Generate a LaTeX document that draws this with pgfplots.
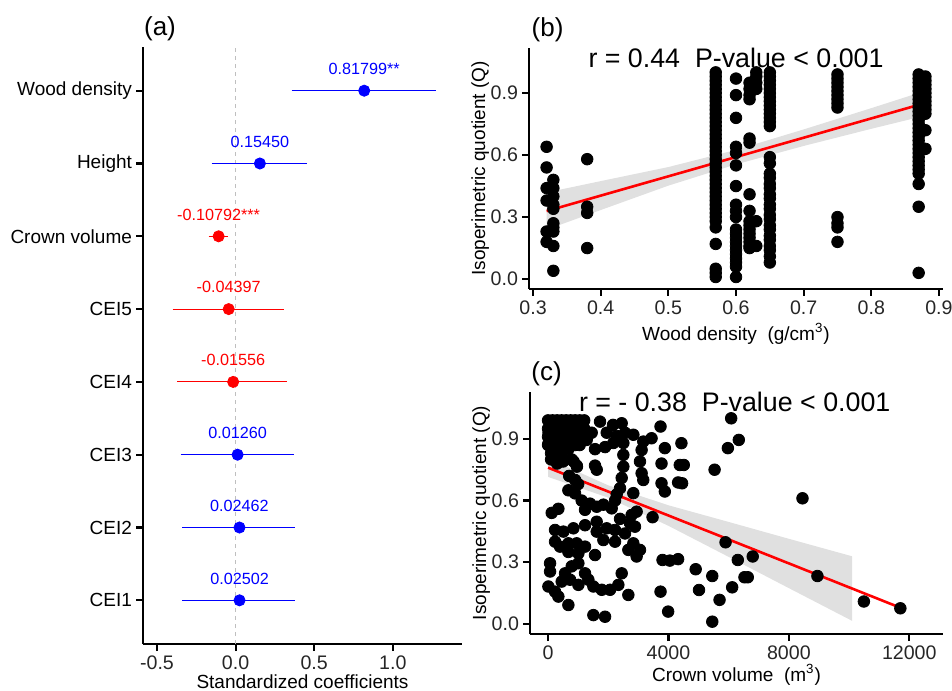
\documentclass[border=0pt]{standalone}
\usepackage{pgfplots}
\pgfplotsset{compat=1.18}
\usepackage{fontspec}
\setmainfont{Liberation Sans}

\pgfplotsset{
  gg/.style={
    scale only axis,
    axis x line*=bottom, axis y line*=left,
    xtick pos=bottom, ytick pos=left,
    axis line style={line width=1.1pt,-},
    tick align=outside, major tick length=3.5pt,
    xtick style={line width=1.1pt,black,draw=black},
    ytick style={line width=1.1pt,black,draw=black},
    tick label style={font=\fontsize{9.8}{11}\selectfont,text=black!85},
    xticklabel style={yshift=1.2pt},
    yticklabel style={xshift=1.5pt},
    label style={font=\fontsize{9.5}{11}\selectfont},
    /pgf/number format/assume math mode=true,
  },
  dots/.style={only marks,mark=*,mark size=2.9pt,black},
  band/.style={fill=gray!60,fill opacity=0.4,draw=none},
  fit/.style={red,line width=1.3pt},
}

\begin{document}
\begin{tikzpicture}[x=1pt,y=1pt]
\useasboundingbox (0,0) rectangle (476,345);

% (a) standardized coefficients
\begin{axis}[gg, at={(71.5pt,23pt)}, anchor=south west,
  width=159.5pt, height=298.5pt,
  axis line style={line width=1.3pt,-},
  xmin=-0.589, xmax=1.44, ymin=0.4, ymax=8.6,
  xtick={-0.5,0,0.5,1}, xticklabels={-0.5,0.0,0.5,1.0},
  ytick={1,...,8},
  yticklabels={CEI1,CEI2,CEI3,CEI4,CEI5,Crown volume,Height,Wood density},
  yticklabel style={text=black,font=\fontsize{9.5}{11}\selectfont},
  xlabel={Standardized coefficients},
  xlabel style={at={(axis description cs:0.5,-0.064)},anchor=center},
  nodes near coords, point meta=explicit symbolic,
  every node near coord/.append style={font=\fontsize{8.1}{9}\selectfont,anchor=south,yshift=4.5pt},
]
\addplot[gray!50,dash pattern=on 2pt off 2pt,line width=0.5pt,nodes near coords=] coordinates {(0,0.4) (0,8.6)};
% confidence intervals
\addplot[blue,line width=0.5pt,nodes near coords=] coordinates {(0.357,8) (1.272,8)};
\addplot[blue,line width=0.5pt,nodes near coords=] coordinates {(-0.153,7) (0.452,7)};
\addplot[red,line width=0.5pt,nodes near coords=] coordinates {(-0.172,6) (-0.050,6)};
\addplot[red,line width=0.5pt,nodes near coords=] coordinates {(-0.40,5) (0.305,5)};
\addplot[red,line width=0.5pt,nodes near coords=] coordinates {(-0.37,4) (0.33,4)};
\addplot[blue,line width=0.5pt,nodes near coords=] coordinates {(-0.35,3) (0.37,3)};
\addplot[blue,line width=0.5pt,nodes near coords=] coordinates {(-0.34,2) (0.38,2)};
\addplot[blue,line width=0.5pt,nodes near coords=] coordinates {(-0.34,1) (0.38,1)};
% estimates
\addplot[only marks,mark=*,mark size=2.8pt,blue,
  every node near coord/.append style={text=blue}] table[x=est,y=pos,meta=lab] {
pos est lab
8 0.81799 0.81799**
7 0.15450 0.15450
3 0.01260 0.01260
2 0.02462 0.02462
1 0.02502 0.02502
};
\addplot[only marks,mark=*,mark size=2.8pt,red,
  every node near coord/.append style={text=red}] table[x=est,y=pos,meta=lab] {
pos est lab
6 -0.10792 -0.10792***
5 -0.04397 -0.04397
4 -0.01556 -0.01556
};
\end{axis}

% (b) wood density
\begin{axis}[gg, at={(264.5pt,200.5pt)}, anchor=south west,
  width=207pt, height=120.5pt,
  xmin=0.294, xmax=0.906, ymin=-0.048, ymax=1.118,
  xtick={0.3,0.4,0.5,0.6,0.7,0.8,0.9},
  xticklabels={0.3,0.4,0.5,0.6,0.7,0.8,0.9},
  ytick={0,0.3,0.6,0.9}, yticklabels={0.0,0.3,0.6,0.9},
  xlabel={Wood density\ \ (g/cm\textsuperscript{3})},
  xlabel style={at={(axis description cs:0.5,-0.187)},anchor=center},
  ylabel={Isoperimetric quotient (Q)},
  ylabel style={at={(axis description cs:-0.118,0.5)},anchor=center},
]
\addplot[dots] coordinates {
(0.32,0.64) (0.32,0.54) (0.32,0.44) (0.32,0.38) (0.32,0.23) (0.32,0.18)
(0.33,0.48) (0.33,0.44) (0.33,0.40) (0.33,0.36) (0.33,0.34) (0.33,0.27) (0.33,0.25) (0.33,0.23) (0.33,0.16) (0.33,0.04)
(0.38,0.58) (0.38,0.35) (0.38,0.32) (0.38,0.15)
(0.57,1.00) (0.57,0.98) (0.57,0.96) (0.57,0.94) (0.57,0.92) (0.57,0.90) (0.57,0.88) (0.57,0.86) (0.57,0.84) (0.57,0.82)
(0.57,0.80) (0.57,0.78) (0.57,0.76) (0.57,0.74) (0.57,0.72) (0.57,0.70) (0.57,0.68) (0.57,0.66) (0.57,0.64) (0.57,0.62)
(0.57,0.60) (0.57,0.58) (0.57,0.56) (0.57,0.54) (0.57,0.52) (0.57,0.50) (0.57,0.48) (0.57,0.46) (0.57,0.44) (0.57,0.42)
(0.57,0.40) (0.57,0.38) (0.57,0.36) (0.57,0.34) (0.57,0.32) (0.57,0.30) (0.57,0.28) (0.57,0.25) (0.57,0.17) (0.57,0.05)
(0.57,0.03) (0.57,0.01)
(0.60,0.97) (0.60,0.89) (0.60,0.78) (0.60,0.64) (0.60,0.61) (0.60,0.55) (0.60,0.45) (0.60,0.36) (0.60,0.33) (0.60,0.30)
(0.60,0.24) (0.60,0.22) (0.60,0.20) (0.60,0.18) (0.60,0.16) (0.60,0.14) (0.60,0.12) (0.60,0.10) (0.60,0.08) (0.60,0.06) (0.60,0.01)
(0.62,0.95) (0.62,0.92) (0.62,0.89) (0.62,0.87) (0.62,0.68) (0.62,0.66) (0.62,0.41) (0.62,0.33) (0.62,0.28) (0.62,0.26)
(0.62,0.24) (0.62,0.22) (0.62,0.20) (0.62,0.18) (0.62,0.16) (0.62,0.15)
(0.63,1.00) (0.63,0.98) (0.63,0.95) (0.63,0.92) (0.63,0.28) (0.63,0.16)
(0.65,1.00) (0.65,0.98) (0.65,0.96) (0.65,0.94) (0.65,0.92) (0.65,0.90) (0.65,0.88) (0.65,0.86) (0.65,0.84) (0.65,0.82)
(0.65,0.80) (0.65,0.78) (0.65,0.76) (0.65,0.74) (0.65,0.59) (0.65,0.56) (0.65,0.51) (0.65,0.49) (0.65,0.46) (0.65,0.44)
(0.65,0.41) (0.65,0.39) (0.65,0.36) (0.65,0.34) (0.65,0.31) (0.65,0.29) (0.65,0.26) (0.65,0.24) (0.65,0.21) (0.65,0.19)
(0.65,0.16) (0.65,0.14) (0.65,0.11) (0.65,0.08)
(0.75,0.99) (0.75,0.97) (0.75,0.95) (0.75,0.93) (0.75,0.91) (0.75,0.89) (0.75,0.87) (0.75,0.85) (0.75,0.83)
(0.75,0.30) (0.75,0.27) (0.75,0.25) (0.75,0.18)
(0.87,0.99) (0.87,0.97) (0.87,0.95) (0.87,0.93) (0.87,0.91) (0.87,0.89) (0.87,0.87) (0.87,0.85) (0.87,0.83) (0.87,0.81)
(0.87,0.79) (0.87,0.77) (0.87,0.75) (0.87,0.73) (0.87,0.71) (0.87,0.69) (0.87,0.67) (0.87,0.65) (0.87,0.63) (0.87,0.61)
(0.87,0.59) (0.87,0.57) (0.87,0.55) (0.87,0.53) (0.87,0.51) (0.87,0.46) (0.87,0.35) (0.87,0.03)
(0.88,0.98) (0.88,0.96) (0.88,0.94) (0.88,0.92) (0.88,0.90) (0.88,0.88) (0.88,0.86) (0.88,0.84) (0.88,0.82) (0.88,0.80)
(0.88,0.72) (0.88,0.63)
};
\addplot[band] coordinates {
(0.32,0.419) (0.4,0.474) (0.5,0.542) (0.6,0.625) (0.7,0.724) (0.8,0.827) (0.88,0.911)
(0.88,0.791) (0.8,0.727) (0.7,0.644) (0.6,0.555) (0.5,0.452) (0.4,0.334) (0.32,0.239)
} -- cycle;
\addplot[fit] coordinates {(0.32,0.329) (0.88,0.852)};
\node[font=\fontsize{13.4}{15}\selectfont] at (axis cs:0.6,1.07) {r = 0.44\ \ P-value \textless{} 0.001};
\end{axis}

% (c) crown volume
\begin{axis}[gg, at={(265pt,28pt)}, anchor=south west,
  width=206.5pt, height=121pt,
  xmin=-600, xmax=13120, ymin=-0.049, ymax=1.128,
  scaled x ticks=false,
  xtick={0,4000,8000,12000}, xticklabels={0,4000,8000,12000},
  ytick={0,0.3,0.6,0.9}, yticklabels={0.0,0.3,0.6,0.9},
  xlabel={Crown volume\ \ (m\textsuperscript{3})},
  xlabel style={at={(axis description cs:0.5,-0.168)},anchor=center},
  ylabel={Isoperimetric quotient (Q)},
  ylabel style={at={(axis description cs:-0.118,0.5)},anchor=center},
]
\addplot[dots] coordinates {
(6083,1.00) (6336,0.895) (5973,0.855) (5532,0.75) (8452,0.611) (5896,0.397) (6303,0.311) (6799,0.328)
(6524,0.227) (6634,0.227) (8948,0.233) (10491,0.109) (11703,0.076) (4904,0.266) (5014,0.165) (5455,0.233)
(5697,0.117) (6116,0.178) (5455,0.011) (3989,0.06) (3736,0.157) (3802,0.311) (4044,0.308) (4320,0.315)
(3736,0.96) (3879,0.855) (3769,0.78) (3879,0.644) (3769,0.684) (4430,0.879) (4375,0.773) (4508,0.773)
(4320,0.688) (4452,0.684) (3471,0.519) (3438,0.903) (3163,0.887) (3108,0.846) (3053,0.79) (3108,0.733)
(3163,0.70) (2942,0.546) (3053,0.36) (2942,0.328) (2887,0.473) (2721,0.49) (2832,0.636) (2667,0.141)
(2833,0.92) (2777,0.53) (2833,0.392) (2667,0.36)
(66,0.968) (342,0.968) (620,0.968) (896,0.968) (1117,0.955) (1726,0.984) (2158,0.968) (2445,0.976) (2557,0.93)
(15,0.93) (177,0.895) (15,0.878) (456,0.93) (731,0.895) (952,0.878) (1283,0.895) (1449,0.93) (1948,0.93) (2280,0.914)
(1560,0.85) (1893,0.86) (2170,0.88) (232,0.85) (456,0.83) (675,0.85) (786,0.80) (952,0.77) (1560,0.77) (1616,0.75)
(2501,0.88) (2501,0.822) (2501,0.765) (2446,0.71) (2391,0.66) (2280,0.63) (2225,0.60)
(675,0.65) (896,0.635) (1117,0.60) (1394,0.585) (1228,0.555) (1615,0.57) (1837,0.58) (2114,0.562) (121,0.54) (342,0.56)
(232,0.457) (508,0.449) (841,0.465) (1228,0.48) (1615,0.497) (1615,0.449) (1948,0.465) (2225,0.457) (2391,0.511)
(232,0.40) (398,0.376) (675,0.392) (952,0.392) (1228,0.376) (675,0.35) (1007,0.343) (1560,0.335) (1837,0.408)
(2225,0.40) (2557,0.44)
(66,0.295) (66,0.255) (564,0.246) (786,0.28) (1007,0.295) (453,0.206) (731,0.215) (1007,0.19) (1228,0.246)
(1339,0.215) (1505,0.182) (1782,0.166) (2059,0.166) (2335,0.19) (2446,0.246)
(11,0.182) (232,0.157) (342,0.133) (675,0.092) (1505,0.043) (1893,0.035)
(0,0.99) (150,0.99) (300,0.99) (450,0.99) (600,0.99) (750,0.99) (900,0.99) (1050,0.99) (1200,0.99)
(0,0.95) (150,0.95) (300,0.95) (450,0.95) (600,0.95) (750,0.95) (900,0.95) (1050,0.95) (1200,0.95)
(0,0.91) (150,0.91) (300,0.91) (450,0.91) (600,0.91) (750,0.91) (900,0.91) (1050,0.91) (1200,0.91)
(0,0.87) (150,0.87) (300,0.87) (450,0.87) (600,0.87) (750,0.87) (900,0.87) (1050,0.87)
(100,0.83) (350,0.81) (100,0.80) (300,0.78) (500,0.79) (849,0.79) (959,0.765) (700,0.72) (900,0.70) (1000,0.68)
};
\addplot[band] coordinates {
(0,0.805) (2000,0.674) (4000,0.577) (6000,0.496) (8000,0.414) (10100,0.329)
(10100,0.015) (8000,0.174) (6000,0.326) (4000,0.477) (2000,0.614) (0,0.715)
} -- cycle;
\addplot[fit] coordinates {(0,0.76) (11700,0.079)};
\node[font=\fontsize{13.4}{15}\selectfont] at (axis cs:6200,1.078) {r = - 0.38\ \ P-value \textless{} 0.001};
\end{axis}

\node[font=\fontsize{13}{15}\selectfont] at (80,330.5) {(a)};
\node[font=\fontsize{13}{15}\selectfont] at (273.8,330) {(b)};
\node[font=\fontsize{13}{15}\selectfont] at (273.3,158.3) {(c)};
\end{tikzpicture}
\end{document}
